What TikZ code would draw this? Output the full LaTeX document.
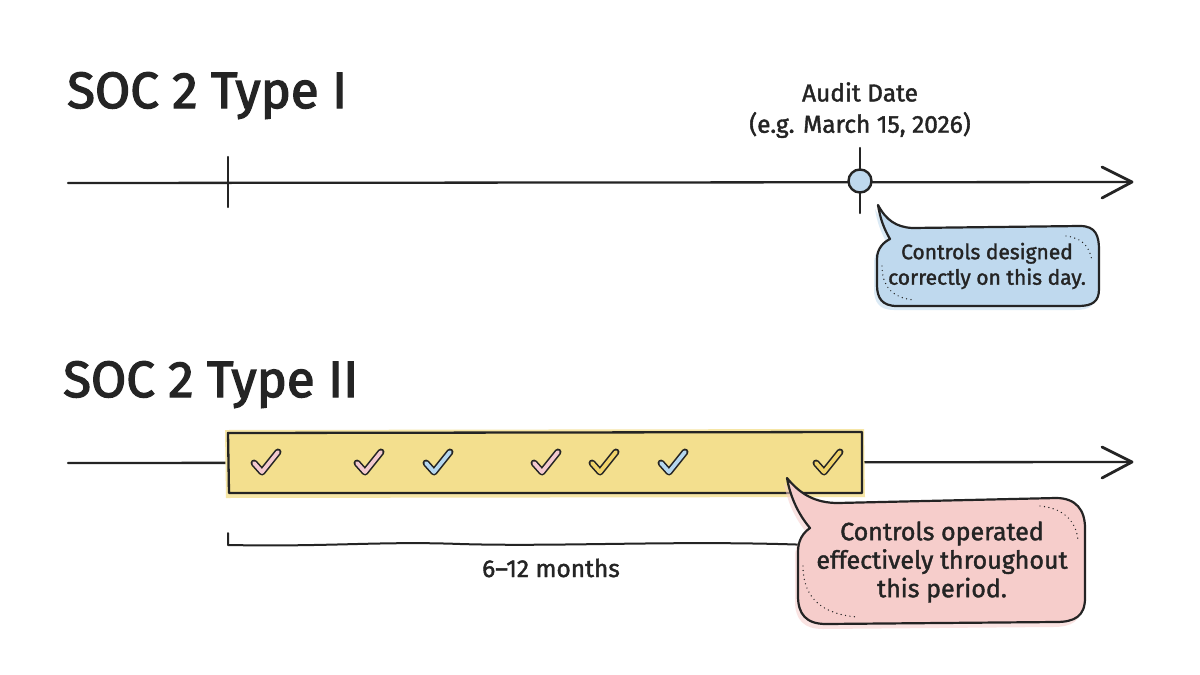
\documentclass[tikz,border=0pt]{standalone}
\usepackage{fontspec}
\setmainfont{Fira Sans}[FakeBold=1.6, AutoFakeBold=1.6]
\newfontfamily\headfont{Fira Sans}[FakeBold=2.6]
\usetikzlibrary{calc}

\definecolor{ink}{HTML}{242424}
\definecolor{skyfill}{HTML}{BFD9EE}
\definecolor{rosefill}{HTML}{F6CDCB}
\definecolor{sunfill}{HTML}{F3DF8E}
\definecolor{sunwash}{HTML}{F6E6A6}
\definecolor{checkrose}{HTML}{F3C9CF}
\definecolor{checksky}{HTML}{B5D7EF}
\definecolor{checksun}{HTML}{F0D36A}

\tikzset{
  axis/.style={ink, line width=2.3pt, line cap=round},
  chevron/.style={ink, line width=2.8pt, line cap=round, line join=round},
  tickmark/.style={ink, line width=2.3pt, line cap=round},
  heading/.style={font=\headfont\fontsize{51}{58}\selectfont, anchor=base west, inner sep=0pt, text=ink},
  caption/.style={font=\fontsize{24.5}{29}\selectfont\bfseries, align=center, inner sep=0pt, text=ink},
  bubbletext/.style={font=\fontsize{21}{25.5}\selectfont\bfseries, align=center, inner sep=0pt, text=ink},
  bigbubbletext/.style={font=\fontsize{25}{28.5}\selectfont\bfseries, align=center, inner sep=0pt, text=ink},
  bubble/.style={ink, line width=2.2pt, line join=round},
  speckle/.style={ink, line width=1.4pt, dash pattern=on 0pt off 4.5pt, line cap=round},
  pics/checkmark/.style={code={
    \draw[ink, line width=7pt, line cap=round, line join=round] (-12,1) -- (-4,10) -- (12,-10);
    \draw[#1, line width=3.8pt, line cap=round, line join=round] (-12,1) -- (-4,10) -- (12,-10);
  }}
}

% outlines of the two speech bubbles
\newcommand\skybubblepath{(878,205) .. controls (886,220) and (896,227) .. (912,228)
  -- (1080,226) .. controls (1096,226) and (1099,236) .. (1099,250)
  -- (1099,289) .. controls (1099,302) and (1092,306) .. (1078,306)
  -- (897,306) .. controls (882,306) and (877,298) .. (877,285)
  -- (877,259) .. controls (877,248) and (884,242) .. (890,239)
  .. controls (884,229) and (880,218) .. (878,205) -- cycle}
\newcommand\rosebubblepath{(787,478) .. controls (800,494) and (815,503) .. (838,503)
  -- (1056,498) .. controls (1076,498) and (1085,510) .. (1085,528)
  -- (1085,598) .. controls (1085,616) and (1075,622) .. (1056,622)
  -- (826,624) .. controls (806,624) and (798,614) .. (798,596)
  -- (798,552) .. controls (798,540) and (803,533) .. (810,528)
  .. controls (798,514) and (790,496) .. (787,478) -- cycle}

\begin{document}
\begin{tikzpicture}[x=1pt, y=-1pt]
\useasboundingbox (0,0) rectangle (1200,675);
\fill[white] (0,0) rectangle (1200,675);

% ---------- Type I ----------
\node[heading] (title1) at (67,108) {SOC 2 Type I};

\coordinate (a1start) at (68,183);
\coordinate (a1end) at (1132,182);
\draw[axis] (a1start) -- (a1end);
\draw[chevron] (1102,167) -- (a1end) -- (1102,198);

\coordinate (start1) at (228,183);
\draw[tickmark] (228,157) -- (228,207);

\coordinate (audit) at (860,181);
\draw[tickmark] (860,148) -- (860,213);
\node[circle, draw=ink, line width=2.4pt, fill=skyfill, minimum size=23pt, inner sep=0pt] (auditdot) at (audit) {};

\node[caption] (auditlbl) at (860,92) {Audit Date};
\node[caption] (auditeg) at (860,125) {(e.g. March 15, 2026)};

% speech bubble for the audit date
\fill[skyfill, opacity=0.55, xshift=-3pt, yshift=-4pt] \skybubblepath;
\draw[bubble, fill=skyfill] \skybubblepath;
\draw[speckle] (1066,236) .. controls (1082,238) and (1090,246) .. (1092,262);
\draw[speckle] (882,266) .. controls (882,286) and (892,298) .. (914,300);
\node[bubbletext] (bubble1) at (987,266) {Controls designed\\correctly on this day.};

% ---------- Type II ----------
\node[heading] (title2) at (63,397) {SOC 2 Type II};

\coordinate (a2start) at (68,463);
\coordinate (a2end) at (1132,462);
\draw[axis] (a2start) -- (a2end);
\draw[chevron] (1102,447) -- (a2end) -- (1102,478);

% observation period
\fill[sunwash] (225,430) -- (864,429) -- (865,497) -- (226,498) -- cycle;
\draw[ink, line width=2.3pt, fill=sunfill, line join=round] (228,433) -- (862,432) -- (862,493) -- (229,493) -- cycle;

\pic at (266,462) {checkmark=checkrose};
\pic at (369,462) {checkmark=checkrose};
\pic at (438,462) {checkmark=checksky};
\pic at (546,462) {checkmark=checkrose};
\pic at (604,462) {checkmark=checksun};
\pic at (673,462) {checkmark=checksky};
\pic at (828,462) {checkmark=checksun};

% period bracket
\coordinate (brL) at (228,533);
\coordinate (brR) at (810,545);
\draw[ink, line width=2pt, line cap=round, line join=round] (brL) -- (228,545)
  .. controls (330,547) and (380,541) .. (460,544) .. controls (560,547) and (680,540) .. (brR);
\node[caption] (months) at (551,568) {6–12 months};

% speech bubble for the period
\fill[rosefill, opacity=0.55, xshift=-3pt, yshift=-5pt] \rosebubblepath;
\draw[bubble, fill=rosefill] \rosebubblepath;
\draw[speckle] (1040,506) .. controls (1062,508) and (1076,520) .. (1078,540);
\draw[speckle] (803,566) .. controls (803,598) and (822,614) .. (857,617);
\node[bigbubbletext] (bubble2) at (942,562) {Controls operated\\effectively throughout\\this period.};

\end{tikzpicture}
\end{document}
